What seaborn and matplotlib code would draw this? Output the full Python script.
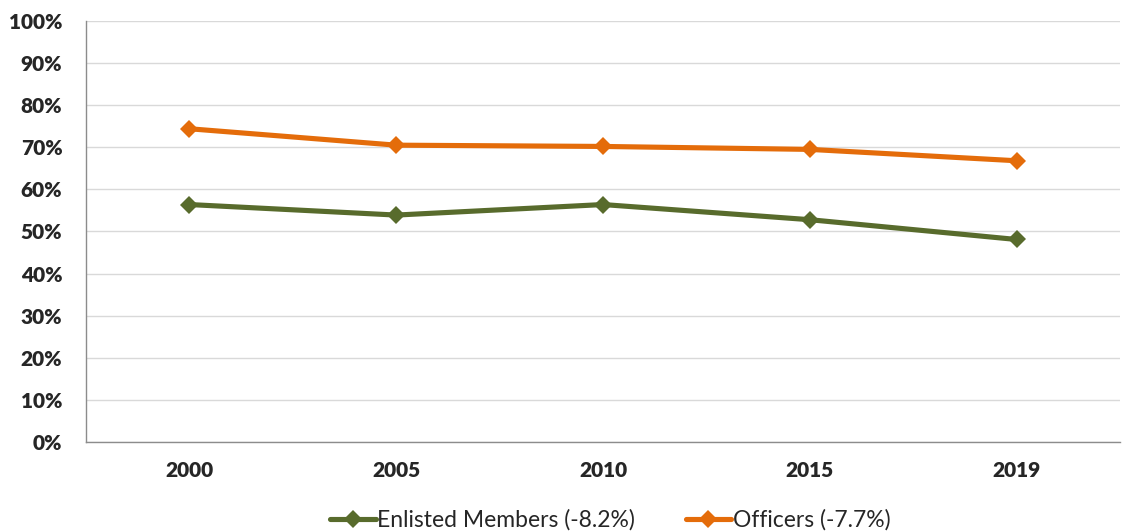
import matplotlib
matplotlib.use("Agg")
import matplotlib.pyplot as plt
import pandas as pd
import seaborn as sns
from matplotlib.ticker import PercentFormatter

# Dados
years = ['2000', '2005', '2010', '2015', '2019']
enlisted = [56.4, 53.9, 56.4, 52.8, 48.1]
officers = [74.4, 70.5, 70.2, 69.5, 66.8]
series_names = ['Enlisted Members (-8.2%)', 'Officers (-7.7%)']
colors = ['#586B2C', '#E46C0A']

df = pd.DataFrame({
    'year': years * 2,
    'value': enlisted + officers,
    'series': [series_names[0]] * len(years) + [series_names[1]] * len(years),
})

sns.set_style('white')
plt.rcParams['font.family'] = ['Lato', 'DejaVu Sans']

fig = plt.figure(figsize=(11.23, 5.31), dpi=100)
ax = fig.add_axes([0.0766, 0.1676, 0.9207, 0.7929])

sns.lineplot(data=df, x='year', y='value', hue='series', palette=colors,
             marker='D', markersize=9.5, linewidth=3.7, markeredgewidth=0,
             sort=False, ax=ax)

ax.set_ylim(0, 100)
ax.set_yticks(range(0, 101, 10))
ax.yaxis.set_major_formatter(PercentFormatter(decimals=0))
ax.set_xlim(-0.5, len(years) - 0.5)
ax.grid(axis='y', color='#D9D9D9', linewidth=1)
ax.set_axisbelow(True)

for s in ['top', 'right']:
    ax.spines[s].set_visible(False)
for s in ['left', 'bottom']:
    ax.spines[s].set_color('#8C8C8C')
    ax.spines[s].set_linewidth(1)

ax.tick_params(axis='y', length=7, color='#8C8C8C', width=1, pad=10)
ax.tick_params(axis='x', length=0, pad=14)
for lab in ax.get_xticklabels() + ax.get_yticklabels():
    lab.set_fontsize(15)
    lab.set_fontweight('heavy')

ax.set_xlabel('')
ax.set_ylabel('')
ax.legend(loc='center', bbox_to_anchor=(0.507, -0.185), ncol=2, frameon=False,
          fontsize=16.5, handlelength=2.0, handletextpad=0.05, columnspacing=2.2)

plt.savefig('out.png', dpi=100)
